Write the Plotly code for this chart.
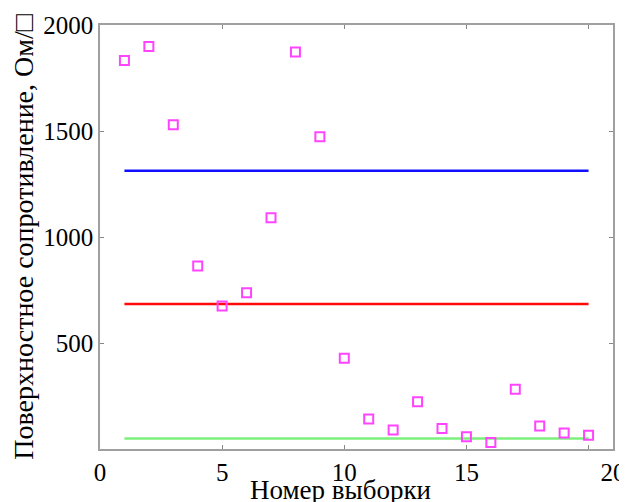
import plotly.graph_objects as go

sample_no = list(range(1, 21))
resistance = [1833, 1898, 1530, 863, 674, 737, 1091, 1873, 1473, 428,
              141, 90, 223, 97, 58, 31, 282, 108, 75, 65]
upper_level = 1313
mid_level = 684
lower_level = 49

x_tickvals = [0, 5, 10, 15, 20, 21]
x_ticktext = ["0", "5", "10", "15", "", "20"]
y_tickvals = [500, 1000, 1500, 2000]

line_x = [sample_no[0], sample_no[-1]]

fig = go.Figure()
fig.add_trace(go.Scatter(x=line_x, y=[upper_level] * 2, mode="lines",
                         line=dict(color="#1010ff", width=2.5)))
fig.add_trace(go.Scatter(x=line_x, y=[mid_level] * 2, mode="lines",
                         line=dict(color="#ff0a0a", width=2.5)))
fig.add_trace(go.Scatter(x=line_x, y=[lower_level] * 2, mode="lines",
                         line=dict(color="#7cf07c", width=2.5)))
fig.add_trace(go.Scatter(x=sample_no, y=resistance, mode="markers",
                         marker=dict(symbol="square-open", size=9,
                                     color="#ff44ff", line=dict(width=2, color="#ff44ff"))))

font = "Liberation Serif, Times New Roman, serif"
fig.update_layout(
    width=619, height=494,
    margin=dict(l=92, r=14, t=17, b=53),
    paper_bgcolor="white", plot_bgcolor="white",
    showlegend=False,
    font=dict(family=font, size=24, color="black"),
    xaxis=dict(range=[0, 21], tickvals=x_tickvals, ticktext=x_ticktext,
               ticks="inside", ticklen=4, tickcolor="#888", mirror="ticks",
               showline=True, linecolor="#a0a0a0", linewidth=1.5,
               showgrid=False, zeroline=False, automargin=False,
               tickfont=dict(family=font, size=25)),
    yaxis=dict(range=[0, 2000], tickvals=y_tickvals,
               ticks="inside", ticklen=4, tickcolor="#888", mirror="ticks",
               showline=True, linecolor="#a0a0a0", linewidth=1.5,
               showgrid=False, zeroline=False, automargin=False,
               tickfont=dict(family=font, size=25),
               title=dict(text="Поверхностное сопротивление, Ом/□", standoff=2,
                          font=dict(family=font, size=28))),
    annotations=[dict(text="Номер выборки", xref="paper", yref="paper",
                      x=0.468, y=-0.096, xanchor="center", yanchor="middle",
                      showarrow=False, font=dict(family=font, size=27))],
)
fig.write_html("out.html")
